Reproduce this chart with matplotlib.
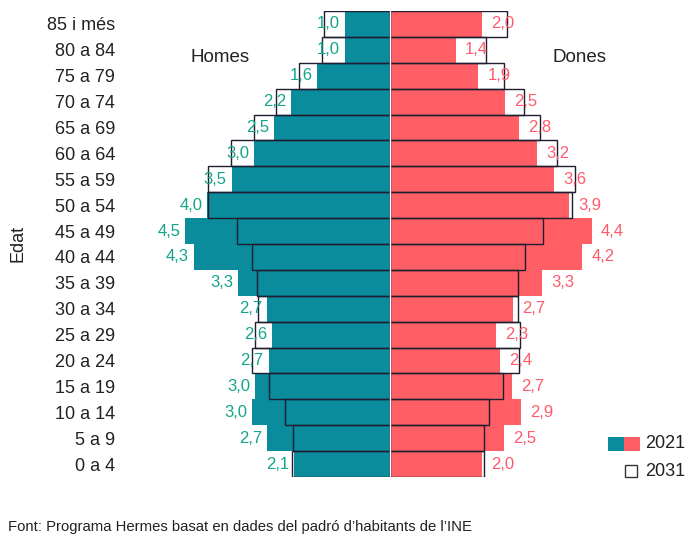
import numpy as np
import matplotlib
matplotlib.use("Agg")
import matplotlib.pyplot as plt
from matplotlib.patches import Rectangle

plt.rcParams['font.family'] = ['Liberation Sans', 'DejaVu Sans']

# age groups, bottom to top
edats = ["0 a 4", "5 a 9", "10 a 14", "15 a 19", "20 a 24", "25 a 29",
         "30 a 34", "35 a 39", "40 a 44", "45 a 49", "50 a 54", "55 a 59",
         "60 a 64", "65 a 69", "70 a 74", "75 a 79", "80 a 84", "85 i més"]

# % of population
homes_2021 = [2.10, 2.70, 3.03, 2.97, 2.67, 2.59, 2.71, 3.34, 4.31, 4.50,
              4.02, 3.48, 2.99, 2.54, 2.18, 1.60, 1.00, 1.00]
homes_2031 = [2.16, 2.14, 2.30, 2.65, 3.03, 2.96, 2.90, 2.92, 3.03, 3.37,
              4.00, 4.01, 3.49, 2.98, 2.51, 1.99, 1.50, 1.44]
dones_2021 = [2.02, 2.51, 2.89, 2.69, 2.42, 2.34, 2.70, 3.34, 4.23, 4.43,
              3.94, 3.61, 3.24, 2.84, 2.53, 1.94, 1.44, 2.03]
dones_2031 = [2.06, 2.06, 2.18, 2.49, 2.84, 2.86, 2.82, 2.82, 2.97, 3.36,
              4.01, 4.06, 3.66, 3.30, 2.95, 2.51, 2.10, 2.58]

teal = '#0a8c9c'
pink = '#ff5e65'
teal_txt = '#13a58a'
pink_txt = '#ff5a6c'
edge = '#1e1e30'
txt = '#222222'

W, H = 695, 541
fig = plt.figure(figsize=(W / 100, H / 100), dpi=100)

L = 5.7
px_unit = 45.5
ax_left = 390 - L * px_unit
ax_w = 2 * L * px_unit
ax_top, ax_bot = 11, 477
ax = fig.add_axes([ax_left / W, 1 - ax_bot / H, ax_w / W, (ax_bot - ax_top) / H])

y = np.arange(len(edats))
h21 = np.array(homes_2021)
d21 = np.array(dones_2021)

ax.barh(y, -h21, height=1.0, color=teal, edgecolor='none', zorder=1)
ax.barh(y, d21, height=1.0, color=pink, edgecolor='none', zorder=1)
ax.barh(y, -np.array(homes_2031), height=1.0, fill=False, edgecolor=edge, linewidth=1, zorder=2)
ax.barh(y, np.array(dones_2031), height=1.0, fill=False, edgecolor=edge, linewidth=1, zorder=2)
ax.axvline(0, color='white', linewidth=0.9, zorder=3)

for i in range(len(edats)):
    ax.annotate(f"{homes_2021[i]:.1f}".replace('.', ','), xy=(-homes_2021[i], i),
                xytext=(-3.5, 0), textcoords='offset points', ha='right', va='center',
                fontsize=12, color=teal_txt, zorder=4)
    ax.annotate(f"{dones_2021[i]:.1f}".replace('.', ','), xy=(dones_2021[i], i),
                xytext=(6.5, 0), textcoords='offset points', ha='left', va='center',
                fontsize=12, color=pink_txt, zorder=4)

ax.set_xlim(-L, L)
ax.set_ylim(-0.5, len(edats) - 0.5)
ax.set_yticks(y)
ax.set_yticklabels(edats, fontsize=13, color=txt)
ax.tick_params(axis='y', length=0, pad=11)
ax.set_xticks([])
for s in ax.spines.values():
    s.set_visible(False)

fig.text(18 / W, 1 - 243 / H, "Edat", rotation=90, ha='center', va='center', fontsize=13, color=txt)
fig.text(220 / W, 1 - 57 / H, "Homes", ha='center', va='center', fontsize=13.5, color=txt)
fig.text(580 / W, 1 - 57 / H, "Dones", ha='center', va='center', fontsize=13.5, color=txt)

# legend
fig.add_artist(Rectangle((608 / W, 1 - 451 / H), 16 / W, 14 / H, transform=fig.transFigure,
                         facecolor=teal, edgecolor='none'))
fig.add_artist(Rectangle((624 / W, 1 - 451 / H), 16 / W, 14 / H, transform=fig.transFigure,
                         facecolor=pink, edgecolor='none'))
fig.text(645 / W, 1 - 444 / H, "2021", ha='left', va='center', fontsize=13, color=txt)
fig.add_artist(Rectangle((625 / W, 1 - 477 / H), 12 / W, 12 / H, transform=fig.transFigure,
                         facecolor='white', edgecolor='#333333', linewidth=1))
fig.text(645 / W, 1 - 471 / H, "2031", ha='left', va='center', fontsize=13, color=txt)

fig.text(8 / W, 1 - 527 / H, "Font: Programa Hermes basat en dades del padró d\u2019habitants de l\u2019INE",
         ha='left', va='center', fontsize=10.7, color=txt)

fig.savefig("out.png", dpi=100)
